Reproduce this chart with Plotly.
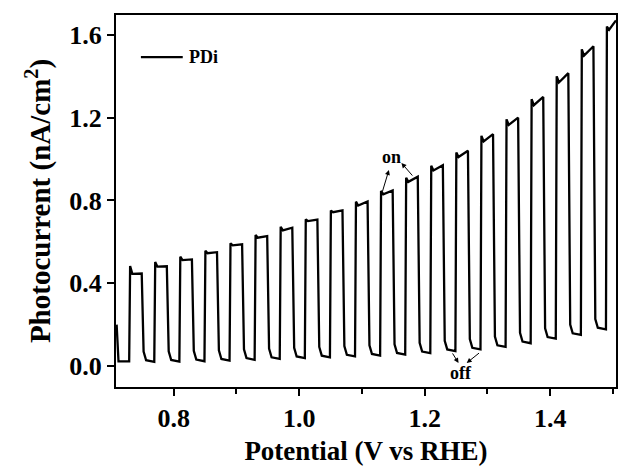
import plotly.graph_objects as go

# ---- data (per light pulse) ----
on_v = [0.729, 0.769, 0.809, 0.849, 0.889, 0.929, 0.969, 1.009, 1.049, 1.089,
        1.129, 1.169, 1.209, 1.249, 1.289, 1.329, 1.369, 1.409, 1.449, 1.489]
off_v = [0.749, 0.789, 0.829, 0.869, 0.909, 0.949, 0.989, 1.029, 1.069, 1.109,
         1.149, 1.189, 1.229, 1.269, 1.309, 1.349, 1.389, 1.429, 1.469]
spike_i = [0.483, 0.503, 0.528, 0.557, 0.593, 0.633, 0.673, 0.709, 0.751, 0.794,
           0.846, 0.910, 0.967, 1.031, 1.112, 1.192, 1.289, 1.400, 1.530, 1.640]
dip_i = [0.445, 0.480, 0.512, 0.545, 0.583, 0.620, 0.655, 0.700, 0.743, 0.775,
         0.830, 0.890, 0.945, 1.010, 1.085, 1.165, 1.260, 1.370, 1.500, 1.625]
end_i = [0.447, 0.482, 0.515, 0.550, 0.588, 0.628, 0.668, 0.707, 0.752, 0.795,
         0.848, 0.915, 0.970, 1.040, 1.120, 1.200, 1.300, 1.415, 1.545, 1.670]
dark_i = [0.020, 0.021, 0.023, 0.026, 0.030, 0.034, 0.038, 0.042, 0.046, 0.050,
          0.055, 0.062, 0.072, 0.080, 0.092, 0.110, 0.132, 0.150, 0.177]
start_v = [0.709, 0.712]
start_i = [0.200, 0.022]
last_v = 1.505

x_ticks = [0.8, 1.0, 1.2, 1.4]
x_tick_text = ["0.8", "1.0", "1.2", "1.4"]
x_minor = [0.9, 1.1, 1.3, 1.5]
y_ticks = [0.0, 0.4, 0.8, 1.2, 1.6]
y_tick_text = ["0.0", "0.4", "0.8", "1.2", "1.6"]
series_name = "PDi"

# ---- shape parameters of the chopped trace ----
SPIKE_DX = 0.0015
DIP_DX = 0.005
FALL_DX = 0.003
ROUND_DX = 0.007

xs = list(start_v)
ys = list(start_i)
prev_dark = start_i[-1]
for k, v_on in enumerate(on_v):
    xs += [v_on, v_on + SPIKE_DX, v_on + DIP_DX]
    ys += [prev_dark, spike_i[k], dip_i[k]]
    if k < len(off_v):
        v_off = off_v[k]
        d = dark_i[k]
        xs += [v_off, v_off + FALL_DX, v_off + ROUND_DX, on_v[k + 1]]
        ys += [end_i[k], d + 0.05, d + 0.008, d]
        prev_dark = d
    else:
        xs += [last_v]
        ys += [end_i[k]]

FONT = "Liberation Serif"

fig = go.Figure()
fig.add_trace(go.Scatter(x=xs, y=ys, mode="lines", name=series_name, showlegend=False,
                         line=dict(color="black", width=2.3)))

axis_common = dict(showline=True, linecolor="black", linewidth=2, mirror=True,
                   ticks="outside", tickwidth=2, ticklen=7, tickcolor="black",
                   showgrid=False, zeroline=False,
                   tickfont=dict(family=FONT, size=26, color="black", weight="bold"))

fig.update_xaxes(range=[0.708, 1.505], tickvals=x_ticks, ticktext=x_tick_text,
                 minor=dict(tickvals=x_minor, ticks="outside", ticklen=5,
                            tickwidth=2, tickcolor="black"),
                 title=dict(text="Potential (V vs RHE)", standoff=9,
                            font=dict(family=FONT, size=27, color="black", weight="bold")),
                 **axis_common)
fig.update_yaxes(range=[-0.1015, 1.696], tickvals=y_ticks, ticktext=y_tick_text,
                 title=dict(text="Photocurrent (nA/cm<sup>2</sup>)", standoff=10,
                            font=dict(family=FONT, size=29, color="black", weight="bold")),
                 **axis_common)

arrow = dict(showarrow=True, arrowhead=2, arrowsize=1, arrowwidth=1, arrowcolor="black",
             axref="x", ayref="y", text="")
fig.add_annotation(x=1.143, y=0.947, ax=1.132, ay=0.836, **arrow)
fig.add_annotation(x=1.163, y=0.981, ax=1.1825, ay=0.913, **arrow)
fig.add_annotation(x=1.254, y=0.0145, ax=1.243, ay=0.068, **arrow)
fig.add_annotation(x=1.267, y=0.0145, ax=1.289, ay=0.068, **arrow)
fig.add_annotation(x=1.1476, y=1.01, text="on", showarrow=False,
                   font=dict(family=FONT, size=18, color="black", weight="bold"))
fig.add_annotation(x=1.2587, y=-0.034, text="off", showarrow=False,
                   font=dict(family=FONT, size=18, color="black", weight="bold"))

# legend drawn by hand (line sample + label)
fig.add_shape(type="line", xref="paper", yref="paper", x0=0.0498, x1=0.1335,
              y0=0.887, y1=0.887, line=dict(color="black", width=2.3))
fig.add_annotation(xref="paper", yref="paper", x=0.1414, y=0.887, text=series_name,
                   showarrow=False, xanchor="left", yanchor="middle",
                   font=dict(family=FONT, size=18, color="black", weight="bold"))

fig.update_layout(width=619, height=471,
                  margin=dict(l=116, r=1, t=15, b=84),
                  paper_bgcolor="white", plot_bgcolor="white")

fig.write_html("out.html")
